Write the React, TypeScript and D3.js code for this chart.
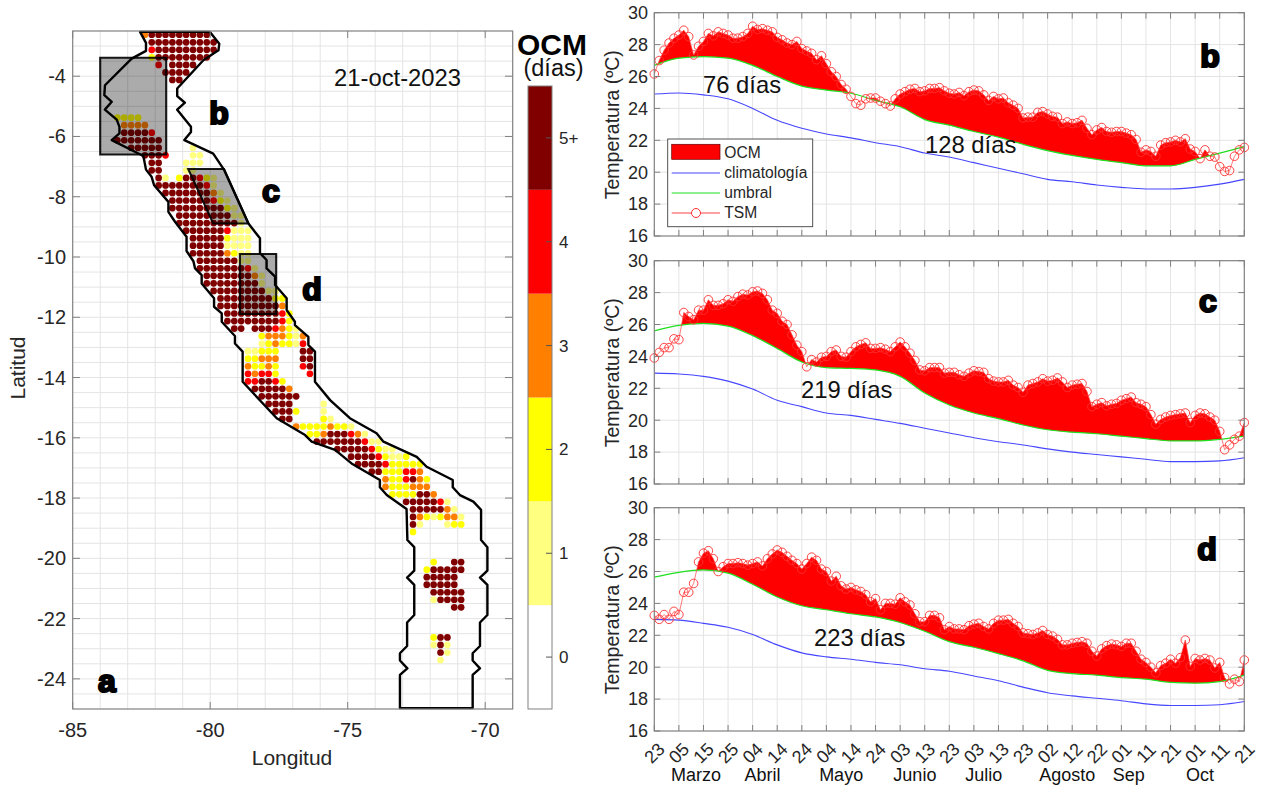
import React from "react";
import * as d3 from "d3";

// ---------- map data ----------
const lonTicks = [-85, -80, -75, -70];
const latTicks = [-4, -6, -8, -10, -12, -14, -16, -18, -20, -22, -24];
const firstLat = -2.625;
const firstLon = -82.375;
const cellStep = 0.25;
// [row south of firstLat, column east of firstLon, OCM days per consecutive cell]
const ocmRuns: [number, number, string][] = [
  [0, 0, "3555555555"], [1, 1, "5555555555"], [2, 1, "4555555555"], [3, 1, "255555555"],
  [4, 2, "4"], [4, 4, "5555"], [5, 3, "5555"], [6, 4, "55"],
  [11, -4, "2222"], [12, -3, "3333"], [13, -3, "55554"], [14, -4, "5555555"],
  [15, -2, "55555"], [15, 7, "1"], [16, 0, "5554"], [16, 7, "11"],
  [17, 1, "55"], [17, 6, "111"], [18, 1, "55"], [18, 6, "11"],
  [19, 2, "51"], [19, 5, "255421"], [20, 2, "555555541"], [21, 3, "555555531"],
  [22, 4, "555555421"], [23, 4, "5555555521"], [24, 5, "5555555511"], [25, 5, "5555555551"],
  [26, 6, "5555554111"], [27, 7, "555552111"], [28, 7, "555551111"], [29, 7, "555553211"],
  [30, 8, "55555511"], [31, 8, "555555541"], [32, 9, "555555531"], [33, 9, "555555551"],
  [34, 10, "5555555511"], [35, 11, "5555555522"], [36, 11, "5555555553"], [37, 12, "5555555542"],
  [38, 12, "5555555542"], [39, 13, "55"], [39, 16, "5554321"], [40, 17, "2333213"],
  [41, 17, "1232214"], [42, 15, "11222"], [42, 23, "55"], [43, 15, "22333"], [43, 23, "55"],
  [44, 15, "32232"], [44, 23, "45"], [45, 15, "43442"], [45, 24, "4"], [46, 15, "445542"],
  [47, 16, "555553"], [48, 17, "555555"], [49, 18, "5555"], [49, 26, "1"], [50, 19, "5552"],
  [50, 26, "1"], [51, 20, "55"], [51, 26, "21"], [52, 22, "322223221"], [53, 24, "223555431"],
  [54, 25, "5555555411"], [55, 28, "555554211"], [56, 30, "555542112"], [57, 31, "5555422222"],
  [58, 33, "55222443"], [59, 35, "3224532"], [60, 35, "3222333"], [61, 36, "2222553"],
  [62, 38, "5555541"], [63, 39, "5555531"], [64, 39, "53212331"], [65, 39, "51"], [65, 44, "122"],
  [66, 39, "2"], [70, 42, "2"], [70, 45, "55"], [71, 41, "255555"], [72, 41, "55555"],
  [73, 41, "55555"], [74, 42, "55555"], [75, 42, "15555"], [76, 45, "55"],
  [80, 42, "255"], [81, 42, "151"], [82, 43, "51"], [83, 43, "1"],
];
const ocmColors = ["#ffffff", "#ffff80", "#ffff00", "#ff8000", "#ff0000", "#800000"];
const ocmLabels = ["0", "1", "2", "3", "4", "5+"];
const stripWest: [number, number][] = [
  [-82.55, -2.53], [-82.335, -2.895], [-82.335, -3.16], [-82.856, -3.415], [-83.826, -4.3], [-83.85, -4.63],
  [-83.58, -4.85], [-83.83, -5.11], [-83.4, -5.44], [-83.3, -5.68], [-83.3, -5.9], [-83.58, -6.12],
  [-82.43, -6.65], [-82.335, -7.1], [-82.13, -7.34], [-82.04, -7.62], [-81.52, -8.17], [-81.52, -8.5],
  [-81.28, -8.83], [-80.86, -9.33], [-80.86, -9.8], [-80.61, -10.14], [-80.55, -10.38], [-80.31, -10.6],
  [-80.31, -10.88], [-79.86, -11.37], [-79.86, -11.65], [-79.58, -11.87], [-79.58, -12.15], [-79.1, -12.62],
  [-79.1, -12.87], [-78.82, -13.14], [-78.82, -14.14], [-77.58, -15.35], [-76.55, -15.91], [-76.31, -16.13],
  [-75.46, -16.4], [-74.86, -16.85], [-73.83, -17.4], [-73.83, -17.64], [-73.58, -17.9], [-72.86, -18.36],
  [-72.83, -19.39], [-72.58, -19.63], [-72.58, -20.41], [-72.84, -20.64], [-72.58, -20.88], [-72.58, -21.88],
  [-72.84, -22.13], [-72.84, -22.91], [-73.1, -23.15], [-73.1, -23.39], [-72.83, -23.65], [-73.1, -23.87],
  [-73.1, -24.97],
];
const stripEast: [number, number][] = [
  [-70.456, -24.97], [-70.456, -23.87], [-70.19, -23.65], [-70.456, -23.39], [-70.456, -23.15], [-70.19, -22.91],
  [-70.19, -22.13], [-69.92, -21.88], [-69.92, -20.88], [-70.19, -20.64], [-69.92, -20.41], [-69.92, -19.63],
  [-70.15, -19.39], [-70.15, -18.39], [-70.43, -18.12], [-70.92, -17.9], [-71.18, -17.64], [-71.18, -17.4],
  [-72.13, -16.96], [-72.49, -16.63], [-73.7, -16.13], [-73.95, -15.85], [-74.92, -15.35], [-75.64, -14.75],
  [-76.19, -14.14], [-76.19, -13.14], [-76.43, -12.92], [-76.43, -12.65], [-76.92, -12.26], [-76.92, -12.15],
  [-77.22, -11.76], [-77.22, -11.37], [-77.64, -10.93], [-77.64, -10.65], [-77.95, -10.38], [-77.95, -10.1],
  [-78.19, -9.87], [-78.19, -9.38], [-78.61, -8.89], [-79.5, -7.1], [-79.89, -6.57], [-80.94, -6.12],
  [-80.7, -5.85], [-80.7, -5.68], [-81.2, -5.11], [-80.92, -4.88], [-81.2, -4.66], [-81.2, -4.41],
  [-80.25, -3.47], [-79.7, -3.14], [-79.67, -2.92], [-80.01, -2.53],
];
const boxB: [number, number][] = [[-84, -3.39], [-81.6, -3.39], [-81.6, -6.6], [-84, -6.6]];
const boxC: [number, number][] = [[-80.8, -7.08], [-79.5, -7.08], [-78.61, -8.89], [-79.89, -8.89]];
const boxD: [number, number][] = [[-78.92, -9.9], [-77.6, -9.9], [-77.6, -11.89], [-78.92, -11.89]];

// ---------- time series data ----------
const startDay = new Date(Date.UTC(2023, 1, 23));
const monthNames = ["Marzo", "Abril", "Mayo", "Junio", "Julio", "Agosto", "Sep", "Oct"];
const monthCenterDays = [17.4, 44.5, 76.4, 106, 134.5, 168.7, 193.5, 222.8];
const tempTicks = [16, 18, 20, 22, 24, 26, 28, 30];
// TSM read every 2 days, threshold and climatology every 10 days
const tsmB = [26.16, 27.0, 27.65, 28.1, 28.4, 28.6, 28.9, 28.5, 27.35, 27.9, 28.2, 28.7, 28.55, 28.8, 28.7, 28.6, 28.4, 28.4, 28.5, 28.7, 29.15, 28.95, 29.0, 28.9, 28.8, 28.45, 28.3, 28.1, 28.0, 28.2, 27.75, 27.6, 27.45, 27.05, 27.3, 26.8, 26.3, 26.0, 25.5, 25.2, 24.75, 24.3, 24.2, 24.6, 24.65, 24.65, 24.45, 24.3, 24.15, 24.6, 24.9, 25.05, 25.2, 25.25, 25.05, 25.1, 25.25, 25.25, 25.3, 25.1, 24.95, 24.9, 25.0, 24.8, 25.05, 25.15, 25.1, 24.85, 24.5, 24.75, 24.6, 24.65, 24.35, 24.2, 24.0, 23.4, 23.45, 23.45, 23.75, 23.8, 23.65, 23.5, 23.45, 23.05, 23.15, 23.05, 23.1, 23.25, 22.75, 22.35, 22.65, 22.8, 22.55, 22.5, 22.55, 22.55, 22.45, 22.35, 22.05, 21.25, 21.4, 21.3, 21.0, 21.7, 21.85, 21.9, 22.0, 21.9, 22.1, 21.45, 21.3, 20.85, 21.4, 21.0, 20.95, 20.35, 20.05, 20.1, 21.0, 21.4, 21.55];
const tsmC = [23.9, 24.25, 24.55, 24.55, 25.1, 25.05, 26.75, 26.5, 26.3, 26.9, 26.9, 27.55, 27.2, 27.2, 27.3, 27.55, 27.45, 27.75, 27.9, 27.85, 28.05, 28.1, 27.95, 27.55, 26.9, 26.7, 26.2, 26.0, 25.35, 24.7, 24.3, 23.35, 23.8, 23.65, 23.95, 24.0, 24.3, 24.4, 24.0, 23.95, 24.3, 24.6, 24.75, 24.85, 24.5, 24.5, 24.55, 24.45, 24.3, 24.6, 24.9, 24.6, 24.2, 23.75, 23.15, 23.1, 23.3, 23.3, 23.3, 22.95, 23.0, 23.0, 22.85, 22.75, 22.95, 23.1, 23.05, 23.0, 22.6, 22.45, 22.4, 22.4, 22.5, 22.2, 22.05, 21.75, 22.2, 22.3, 22.4, 22.6, 22.45, 22.5, 22.65, 22.4, 22.05, 22.2, 22.25, 22.3, 21.8, 20.85, 21.0, 21.1, 20.9, 21.0, 21.05, 21.25, 21.35, 21.45, 21.1, 21.0, 20.85, 20.35, 19.75, 20.05, 20.2, 20.3, 20.35, 20.4, 20.45, 19.85, 20.3, 20.45, 20.4, 20.2, 20.0, 19.3, 18.15, 18.45, 18.8, 19.0, 19.85];
const tsmD = [23.25, 23.0, 23.3, 23.0, 23.5, 23.3, 24.7, 24.7, 25.25, 26.6, 27.15, 27.3, 26.8, 26.0, 26.3, 26.5, 26.5, 26.55, 26.5, 26.4, 26.5, 26.6, 26.35, 26.8, 27.1, 27.35, 27.2, 26.95, 26.7, 26.5, 26.15, 26.5, 26.9, 26.7, 26.15, 26.0, 25.4, 25.7, 25.1, 24.9, 25.0, 24.85, 24.75, 24.55, 24.1, 24.3, 23.6, 24.0, 24.0, 23.95, 24.35, 24.1, 23.9, 23.35, 22.85, 22.85, 23.25, 23.25, 23.1, 22.35, 22.55, 22.4, 22.4, 22.35, 22.6, 22.7, 22.75, 22.55, 22.4, 22.75, 22.95, 22.95, 23.0, 22.75, 22.55, 22.15, 22.1, 22.05, 22.15, 22.3, 22.05, 21.95, 21.75, 21.4, 21.4, 21.5, 21.55, 21.6, 21.5, 21.0, 20.7, 21.15, 21.35, 21.45, 21.4, 21.3, 21.5, 21.5, 21.0, 20.5, 20.3, 20.0, 19.65, 20.1, 20.25, 20.5, 20.25, 20.6, 21.7, 20.05, 20.55, 20.45, 20.55, 20.45, 19.95, 20.3, 19.35, 18.95, 19.25, 19.1, 20.45];
const umbralB = [26.7, 27.15, 27.25, 27.15, 26.7, 26.0, 25.4, 25.15, 24.95, 24.5, 24.1, 23.3, 22.95, 22.55, 22.2, 21.75, 21.35, 21.05, 20.8, 20.6, 20.4, 20.4, 20.8, 21.2, 21.6];
const umbralC = [25.6, 25.95, 26.07, 25.9, 25.3, 24.5, 23.65, 23.3, 23.25, 23.15, 22.75, 21.7, 20.95, 20.45, 20.1, 19.7, 19.4, 19.25, 19.15, 19.0, 18.85, 18.7, 18.7, 18.8, 19.0];
const umbralD = [25.65, 25.95, 26.1, 25.9, 25.2, 24.4, 23.85, 23.6, 23.35, 23.15, 22.8, 22.25, 21.6, 21.25, 20.85, 20.4, 19.8, 19.6, 19.5, 19.35, 19.25, 19.05, 19.0, 19.1, 19.5];
const climaB = [24.9, 24.97, 24.85, 24.6, 24.0, 23.25, 22.75, 22.4, 22.15, 21.85, 21.6, 21.2, 20.95, 20.6, 20.25, 19.9, 19.55, 19.4, 19.2, 19.05, 18.95, 18.95, 19.05, 19.25, 19.55];
const climaC = [22.95, 22.9, 22.75, 22.45, 21.95, 21.25, 20.85, 20.45, 20.3, 20.05, 19.8, 19.5, 19.2, 18.9, 18.65, 18.45, 18.2, 18.0, 17.85, 17.7, 17.55, 17.4, 17.4, 17.45, 17.65];
const climaD = [23.0, 22.95, 22.75, 22.5, 22.05, 21.4, 20.9, 20.65, 20.5, 20.3, 20.15, 19.9, 19.75, 19.45, 19.15, 18.75, 18.4, 18.2, 18.05, 17.9, 17.7, 17.6, 17.6, 17.65, 17.85];
const legendNames = ["OCM", "climatología", "umbral", "TSM"];

const SANS = "'Liberation Sans', Arial, sans-serif";
const TICK = "#262626";
const GRID = "#e4e4e4";
const FRAME = "#808080";
const dayOf = (n: number) => d3.utcDay.offset(startDay, n);
const poly = (pts: [number, number][], x: any, y: any) => d3.line<[number, number]>().x((d) => x(d[0])).y((d) => y(d[1])).curve(d3.curveLinearClosed)(pts) as string;

function Letter({ x, y, t }: { x: number; y: number; t: string }) {
  return <text x={x} y={y} fontFamily={SANS} fontWeight={700} fontSize={32} textAnchor="middle" stroke="#000" strokeWidth={2.2} fill="#000">{t}</text>;
}

function MapPanel() {
  const x = d3.scaleLinear().domain([-85, -69]).range([72.7, 512.7]);
  const y = d3.scaleLinear().domain([-25, -2.5]).range([709, 31]);
  const lonGrid = d3.range(-84, -69, 1);
  const latGrid = d3.range(-24.5, -2.5, 0.5);
  const cells = ocmRuns.flatMap(([r, c, codes]) => codes.split("").map((v, i) => ({
    lon: firstLon + (c + i) * cellStep, lat: firstLat - r * cellStep, v: +v,
  })));
  const strip = [...stripWest, ...stripEast];
  const bar = d3.scaleLinear().domain([-0.5, 5.5]).range([709, 86]);
  return (
    <g fontFamily={SANS}>
      <rect x={72.7} y={31} width={440} height={678} fill="#fff" />
      {lonGrid.map((l) => <line key={l} x1={x(l)} x2={x(l)} y1={31} y2={709} stroke={GRID} strokeWidth={1} />)}
      {latGrid.map((l) => <line key={l} x1={72.7} x2={512.7} y1={y(l)} y2={y(l)} stroke={GRID} strokeWidth={1} />)}
      {cells.map((c, i) => <circle key={i} cx={x(c.lon)} cy={y(c.lat)} r={3.35} fill={ocmColors[c.v]} />)}
      {[boxB, boxC, boxD].map((b, i) => <path key={i} d={poly(b, x, y)} fill="#000" fillOpacity={0.33} stroke="#000" strokeOpacity={0.9} strokeWidth={2.1} />)}
      <path d={poly(strip, x, y)} fill="none" stroke="#000" strokeWidth={2.4} strokeLinejoin="round" />
      <rect x={72.7} y={31} width={440} height={678} fill="none" stroke={FRAME} strokeWidth={1.2} />
      {lonTicks.map((l) => (
        <g key={l}>
          <line x1={x(l)} x2={x(l)} y1={709} y2={702} stroke={FRAME} />
          <line x1={x(l)} x2={x(l)} y1={31} y2={38} stroke={FRAME} />
          <text x={x(l)} y={737} fontSize={20} fill={TICK} textAnchor="middle">{l}</text>
        </g>
      ))}
      {latTicks.map((l) => (
        <g key={l}>
          <line x1={72.7} x2={80} y1={y(l)} y2={y(l)} stroke={FRAME} />
          <line x1={512.7} x2={505} y1={y(l)} y2={y(l)} stroke={FRAME} />
          <text x={66} y={y(l) + 7} fontSize={20} fill={TICK} textAnchor="end">{l}</text>
        </g>
      ))}
      <text x={292} y={765} fontSize={21} fill={TICK} textAnchor="middle">Longitud</text>
      <text transform="translate(25,368) rotate(-90)" fontSize={21} fill={TICK} textAnchor="middle">Latitud</text>
      <text x={334} y={86} fontSize={23.8} fill="#111">21-oct-2023</text>
      <Letter x={219} y={124} t="b" />
      <Letter x={271} y={202} t="c" />
      <Letter x={312} y={300} t="d" />
      <Letter x={107} y={692} t="a" />
      {ocmColors.map((c, i) => (
        <rect key={i} x={528} y={bar(i + 0.5)} width={24} height={bar(i - 0.5) - bar(i + 0.5)} fill={c} />
      ))}
      <rect x={528} y={86} width={24} height={623} fill="none" stroke={FRAME} strokeWidth={1} />
      {ocmLabels.map((t, i) => (
        <g key={t}>
          <line x1={546} x2={552} y1={bar(i)} y2={bar(i)} stroke="#555" />
          <text x={559} y={bar(i) + 6} fontSize={17} fill={TICK}>{t}</text>
        </g>
      ))}
      <text x={552} y={55} fontSize={30} fontWeight={700} textAnchor="middle" fill="#000">OCM</text>
      <text x={553.5} y={76} fontSize={23.5} textAnchor="middle" fill="#111">(días)</text>
    </g>
  );
}

type PanelProps = {
  id: string; top: number; tsm: number[]; umbral: number[]; clima: number[]; letter: string;
  letterX: number; letterY: number; notes: { t: string; x: number; y: number }[];
  legend?: boolean; labels?: boolean;
};

function Panel({ id, top, tsm, umbral, clima, letter, letterX, letterY, notes, legend, labels }: PanelProps) {
  const left = 654.3, right = 1244.3, bottom = top + 223.3;
  const x = d3.scaleUtc().domain([dayOf(0), dayOf(240)]).range([left, right]);
  const y = d3.scaleLinear().domain([16, 30]).range([bottom, top]);
  const ticks = d3.range(0, 241, 10).map(dayOf);
  const tsmPts = tsm.map((v, i) => ({ d: dayOf(i * 2), v }));
  const umbralPts = umbral.map((v, i) => ({ d: dayOf(i * 10), v }));
  const climaPts = clima.map((v, i) => ({ d: dayOf(i * 10), v }));
  const smooth = d3.line<{ d: Date; v: number }>().x((p) => x(p.d)).y((p) => y(p.v)).curve(d3.curveMonotoneX);
  const jagged = d3.line<{ d: Date; v: number }>().x((p) => x(p.d)).y((p) => y(p.v));
  const aboveUmbral = d3.area<{ d: Date; v: number }>().x((p) => x(p.d)).y0(y(30) - 10).y1((p) => y(p.v)).curve(d3.curveMonotoneX);
  const underTsm = d3.area<{ d: Date; v: number }>().x((p) => x(p.d)).y0(bottom).y1((p) => y(p.v));
  const fmt = d3.utcFormat("%d");
  return (
    <g fontFamily={SANS}>
      <defs><clipPath id={id}><path d={aboveUmbral(umbralPts) as string} /></clipPath></defs>
      <rect x={left} y={top} width={right - left} height={bottom - top} fill="#fff" />
      {ticks.slice(1, -1).map((d) => <line key={+d} x1={x(d)} x2={x(d)} y1={top} y2={bottom} stroke={GRID} />)}
      {tempTicks.slice(1, -1).map((t) => <line key={t} x1={left} x2={right} y1={y(t)} y2={y(t)} stroke={GRID} />)}
      <path d={underTsm(tsmPts) as string} fill="#ff0000" clipPath={`url(#${id})`} />
      <path d={smooth(climaPts) as string} fill="none" stroke="#4646ff" strokeWidth={1.1} />
      <path d={smooth(umbralPts) as string} fill="none" stroke="#1fe01f" strokeWidth={1.2} />
      <path d={jagged(tsmPts) as string} fill="none" stroke="#ff4040" strokeWidth={0.7} />
      {tsmPts.map((p, i) => <circle key={i} cx={x(p.d)} cy={y(p.v)} r={4.3} fill="none" stroke="#ff3030" strokeWidth={0.9} />)}
      <rect x={left} y={top} width={right - left} height={bottom - top} fill="none" stroke={FRAME} strokeWidth={1.2} />
      {ticks.map((d) => (
        <g key={+d}>
          <line x1={x(d)} x2={x(d)} y1={bottom} y2={bottom - 6} stroke={FRAME} />
          <line x1={x(d)} x2={x(d)} y1={top} y2={top + 6} stroke={FRAME} />
          {labels && <text transform={`translate(${x(d)},${bottom + 22}) rotate(-45)`} dy="0.35em" fontSize={18} fill={TICK} textAnchor="middle">{fmt(d)}</text>}
        </g>
      ))}
      {tempTicks.map((t) => (
        <g key={t}>
          <line x1={left} x2={left + 6} y1={y(t)} y2={y(t)} stroke={FRAME} />
          <line x1={right} x2={right - 6} y1={y(t)} y2={y(t)} stroke={FRAME} />
          <text x={648} y={y(t) + 6.3} fontSize={18} fill={TICK} textAnchor="end">{t}</text>
        </g>
      ))}
      <text transform={`translate(618.5,${top + 112}) rotate(-90)`} fontSize={19.5} fill={TICK} textAnchor="middle">Temperatura (ºC)</text>
      {notes.map((n) => <text key={n.t} x={n.x} y={n.y} fontSize={23.8} fill="#111">{n.t}</text>)}
      <Letter x={letterX} y={letterY} t={letter} />
      {labels && monthNames.map((m, i) => <text key={m} x={x(dayOf(monthCenterDays[i]))} y={781} fontSize={18} fill="#111" textAnchor="middle">{m}</text>)}
      {legend && (
        <g>
          <rect x={667.7} y={139} width={145} height={87.7} fill="#fff" stroke="#404040" strokeWidth={0.9} />
          <rect x={671.7} y={144.3} width={48.3} height={15} fill="#ff0000" stroke="#600" strokeWidth={0.7} />
          <line x1={671.7} x2={720} y1={173} y2={173} stroke="#4646ff" />
          <line x1={671.7} x2={720} y1={193} y2={193} stroke="#1fe01f" />
          <line x1={671.7} x2={720} y1={213} y2={213} stroke="#ff4040" />
          <circle cx={696} cy={213} r={4.5} fill="#fff" stroke="#ff3030" />
          {legendNames.map((n, i) => <text key={n} x={724.3} y={158 + i * 20} fontSize={15.6} fill={TICK}>{n}</text>)}
        </g>
      )}
    </g>
  );
}

export default function App() {
  return (
    <svg width={1270} height={787} viewBox="0 0 1270 787" style={{ position: "absolute", left: 0, top: 0, display: "block", background: "#fff" }}>
      <MapPanel />
      <Panel id="clipB" top={12.7} tsm={tsmB} umbral={umbralB} clima={climaB} letter="b" letterX={1210} letterY={67} legend
        notes={[{ t: "76 días", x: 703, y: 93 }, { t: "128 días", x: 925, y: 153 }]} />
      <Panel id="clipC" top={260.7} tsm={tsmC} umbral={umbralC} clima={climaC} letter="c" letterX={1208} letterY={312}
        notes={[{ t: "219 días", x: 801, y: 398 }]} />
      <Panel id="clipD" top={507.7} tsm={tsmD} umbral={umbralD} clima={climaD} letter="d" letterX={1207} letterY={560} labels
        notes={[{ t: "223 días", x: 814, y: 646 }]} />
    </svg>
  );
}
